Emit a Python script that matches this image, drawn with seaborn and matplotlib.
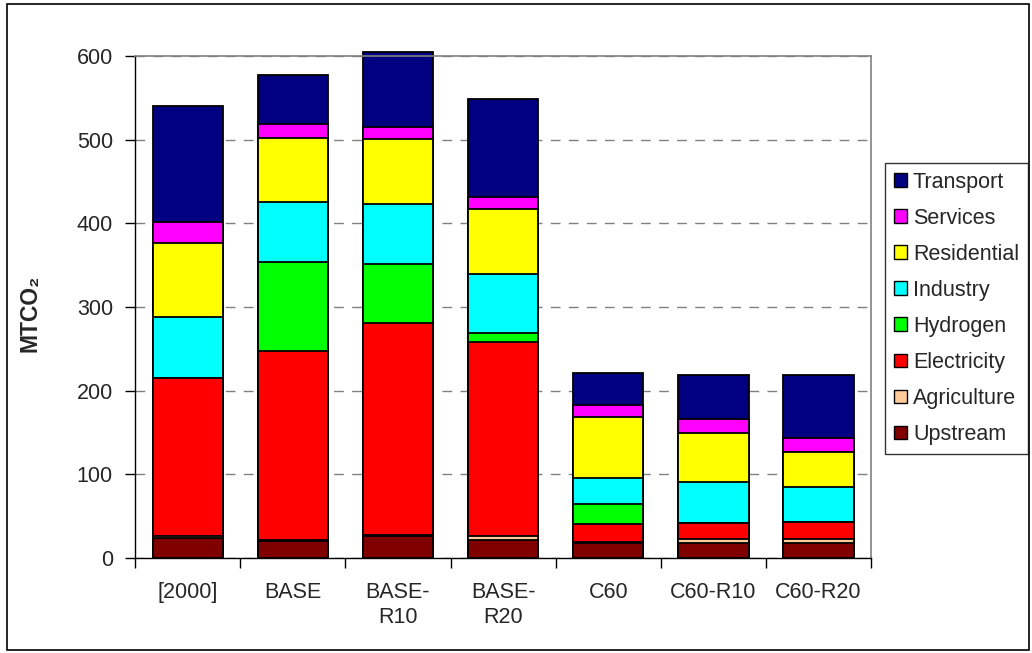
import numpy as np
import seaborn as sns
import matplotlib.pyplot as plt
from matplotlib.patches import Patch, Rectangle
from matplotlib.ticker import FixedLocator

# категории и секторы (снизу вверх)
scenarios = ['[2000]', 'BASE', 'BASE-\nR10', 'BASE-\nR20', 'C60', 'C60-R10', 'C60-R20']
sectors = ['Upstream', 'Agriculture', 'Electricity', 'Hydrogen',
           'Industry', 'Residential', 'Services', 'Transport']
colors = ['#800000', '#FFCC99', '#FF0000', '#00FF00',
          '#00FFFF', '#FFFF00', '#FF00FF', '#000080']

upstream    = [24, 20, 26, 22, 18, 18.5, 18.5]
agriculture = [2, 2, 2, 4, 1.5, 4, 4]
electricity = [189, 226, 253, 232, 21.5, 19, 21]
hydrogen    = [0, 106, 71, 11, 23, 0, 0]
industry    = [73, 71.5, 71, 71, 31.5, 49.5, 41.5]
residential = [89, 76, 77.5, 77, 73, 58.5, 42]
services    = [25, 17, 14.5, 14, 14.5, 17, 16]
transport   = [138, 59, 90, 118, 38, 52, 75.5]

layers = [upstream, agriculture, electricity, hydrogen,
          industry, residential, services, transport]
cum = np.cumsum(np.array(layers, dtype=float), axis=0)

sns.set_style('white')
plt.rcParams['font.family'] = ['Liberation Sans', 'DejaVu Sans']
fs = 15.5

fig = plt.figure(figsize=(10.32, 6.53), dpi=100)
ax = fig.add_axes([0.131, 0.1455, 0.713, 0.7687])

# стек: рисуем накопленные суммы сверху вниз, нижние перекрывают верхние
for i in range(len(sectors) - 1, -1, -1):
    sns.barplot(x=scenarios, y=cum[i], color=colors[i], width=0.67,
                edgecolor='black', linewidth=1.3, saturation=1, ax=ax)

for p in ax.patches:
    p.set_clip_on(False)

ax.set_ylim(0, 600)
ax.set_xlim(-0.5, 6.5)
ax.set_yticks(range(0, 601, 100))
ax.yaxis.grid(True, color='#808080', linestyle=(0, (7, 6)), linewidth=1)
ax.set_axisbelow(True)

ax.tick_params(axis='y', direction='out', length=7, width=1, color='black',
               labelsize=fs, left=True, pad=9)
ax.tick_params(axis='x', which='major', length=0, labelsize=fs, pad=17)
for t in ax.get_xticklabels():
    t.set_linespacing(1.25)
ax.xaxis.set_minor_locator(FixedLocator(np.arange(-0.5, 7, 1)))
ax.tick_params(axis='x', which='minor', direction='out', length=7, width=1,
               color='black', bottom=True)

for s in ['left', 'bottom']:
    ax.spines[s].set_color('black')
    ax.spines[s].set_linewidth(1)
for s in ['top', 'right']:
    ax.spines[s].set_color('#808080')
    ax.spines[s].set_linewidth(1.2)

ax.set_ylabel('')
ax.set_xlabel('')
fig.text(30 / 1032, 1 - 313 / 653, 'MTCO₂', rotation=90, ha='center', va='center',
         fontsize=16.5, fontweight='bold')

handles = [Patch(facecolor=colors[i], edgecolor='black', label=sectors[i])
           for i in range(len(sectors) - 1, -1, -1)]
leg = fig.legend(handles=handles, loc='upper left',
                 bbox_to_anchor=(885 / 1032, 1 - 163 / 653), frameon=True,
                 fancybox=False, edgecolor='black', fontsize=fs,
                 handlelength=0.6, handleheight=0.6, handletextpad=0.3,
                 labelspacing=0.7, borderpad=0.4, borderaxespad=0)
leg.get_frame().set_linewidth(1)

fig.patches.append(Rectangle((0.007, 0.004), 0.99, 0.99, transform=fig.transFigure,
                             fill=False, edgecolor='black', linewidth=1.2))

fig.savefig('out.png', dpi=100)
